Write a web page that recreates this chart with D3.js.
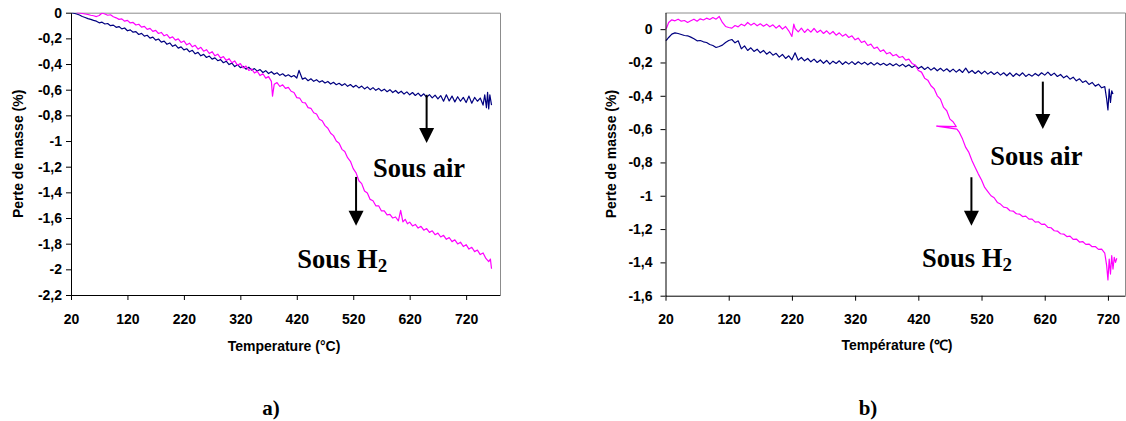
<!DOCTYPE html>
<html><head><meta charset="utf-8">
<script src="https://cdn.jsdelivr.net/npm/d3@7"></script>
<style>
html,body{margin:0;padding:0;background:#fff;}
svg{display:block;}
</style></head>
<body>
<svg id="chart" width="1126" height="421"></svg>
<script>
// ---------- DATA ----------
const xTicks = [20,120,220,320,420,520,620,720];
const yTicksA = [0,-0.2,-0.4,-0.6,-0.8,-1,-1.2,-1.4,-1.6,-1.8,-2,-2.2];
const yTicksB = [0,-0.2,-0.4,-0.6,-0.8,-1,-1.2,-1.4,-1.6];
const xTitleA = "Temperature (°C)";
const xTitleB = "Température (℃)";
const yTitle = "Perte de masse (%)";
const panelLabels = ["a)", "b)"];

// panel a) – under air (navy)
const airA = [[20,0],[25,-0.004],[30,-0.010],[35,-0.018],[40,-0.030],[45,-0.037],[50,-0.046],[55,-0.052],[60,-0.060],[65,-0.066],[70,-0.079],[75,-0.074],[80,-0.088],[85,-0.084],[90,-0.101],[95,-0.097],[100,-0.114],[105,-0.108],[110,-0.126],[115,-0.119],[120,-0.141],[125,-0.134],[130,-0.152],[135,-0.147],[140,-0.170],[145,-0.161],[150,-0.183],[155,-0.176],[160,-0.198],[165,-0.190],[170,-0.214],[175,-0.205],[180,-0.229],[185,-0.222],[190,-0.246],[195,-0.236],[200,-0.262],[205,-0.251],[210,-0.276],[215,-0.266],[220,-0.290],[225,-0.281],[230,-0.305],[235,-0.293],[240,-0.320],[245,-0.309],[250,-0.336],[255,-0.325],[260,-0.349],[265,-0.338],[270,-0.362],[275,-0.352],[280,-0.374],[285,-0.366],[290,-0.390],[295,-0.378],[300,-0.404],[305,-0.393],[310,-0.420],[315,-0.405],[320,-0.428],[325,-0.418],[330,-0.440],[335,-0.425],[340,-0.447],[345,-0.436],[350,-0.455],[355,-0.443],[360,-0.466],[365,-0.452],[370,-0.474],[375,-0.460],[380,-0.480],[385,-0.468],[390,-0.488],[395,-0.476],[400,-0.495],[405,-0.484],[410,-0.500],[415,-0.490],[420,-0.509],[424,-0.450],[430,-0.518],[435,-0.508],[440,-0.530],[445,-0.515],[450,-0.535],[455,-0.522],[460,-0.541],[465,-0.530],[470,-0.548],[475,-0.536],[480,-0.556],[485,-0.542],[490,-0.561],[495,-0.550],[500,-0.568],[505,-0.553],[510,-0.574],[515,-0.560],[520,-0.580],[525,-0.566],[530,-0.586],[535,-0.572],[540,-0.594],[545,-0.578],[550,-0.600],[555,-0.584],[560,-0.605],[565,-0.590],[570,-0.610],[575,-0.596],[580,-0.616],[585,-0.600],[590,-0.622],[595,-0.606],[600,-0.628],[605,-0.612],[610,-0.634],[615,-0.617],[620,-0.640],[625,-0.622],[630,-0.645],[635,-0.627],[640,-0.651],[645,-0.632],[650,-0.660],[655,-0.638],[660,-0.664],[665,-0.642],[670,-0.672],[675,-0.646],[680,-0.690],[685,-0.640],[690,-0.688],[695,-0.650],[700,-0.695],[705,-0.655],[710,-0.690],[715,-0.660],[720,-0.700],[725,-0.650],[730,-0.705],[735,-0.660],[740,-0.690],[745,-0.665],[750,-0.720],[753,-0.640],[756,-0.740],[758,-0.620],[760,-0.750],[762,-0.640],[765,-0.720]];

// panel a) – under H2 (magenta)
const h2A = [[30,0],[35,-0.002],[40,-0.006],[45,-0.010],[50,-0.014],[55,-0.020],[60,-0.024],[65,-0.030],[70,-0.022],[75,-0.002],[80,-0.010],[85,-0.020],[90,-0.016],[95,-0.032],[100,-0.040],[105,-0.052],[110,-0.048],[115,-0.066],[120,-0.060],[125,-0.080],[130,-0.076],[135,-0.096],[140,-0.090],[145,-0.112],[150,-0.106],[155,-0.130],[160,-0.122],[165,-0.146],[170,-0.138],[175,-0.162],[180,-0.154],[185,-0.180],[190,-0.170],[195,-0.198],[200,-0.188],[205,-0.214],[210,-0.204],[215,-0.232],[220,-0.220],[225,-0.250],[230,-0.238],[235,-0.266],[240,-0.254],[245,-0.284],[250,-0.270],[255,-0.300],[260,-0.288],[265,-0.318],[270,-0.304],[275,-0.336],[280,-0.323],[285,-0.354],[290,-0.342],[295,-0.372],[300,-0.358],[305,-0.390],[310,-0.376],[315,-0.410],[320,-0.396],[325,-0.430],[330,-0.416],[335,-0.450],[340,-0.438],[345,-0.470],[350,-0.456],[355,-0.490],[360,-0.476],[365,-0.510],[370,-0.498],[375,-0.535],[377,-0.650],[380,-0.558],[385,-0.545],[390,-0.575],[395,-0.562],[400,-0.590],[405,-0.582],[410,-0.612],[415,-0.622],[420,-0.662],[425,-0.665],[430,-0.700],[435,-0.702],[440,-0.740],[445,-0.745],[450,-0.780],[455,-0.790],[460,-0.830],[465,-0.842],[470,-0.880],[475,-0.900],[480,-0.940],[485,-0.958],[490,-1.000],[495,-1.018],[500,-1.065],[505,-1.082],[510,-1.130],[515,-1.158],[520,-1.215],[525,-1.248],[530,-1.310],[535,-1.332],[540,-1.390],[545,-1.405],[550,-1.455],[555,-1.465],[560,-1.505],[565,-1.505],[570,-1.545],[575,-1.545],[580,-1.575],[585,-1.572],[590,-1.600],[595,-1.592],[600,-1.622],[604,-1.540],[608,-1.630],[612,-1.610],[616,-1.645],[620,-1.632],[625,-1.662],[630,-1.650],[635,-1.678],[640,-1.665],[645,-1.695],[650,-1.682],[655,-1.712],[660,-1.700],[665,-1.730],[670,-1.718],[675,-1.748],[680,-1.735],[685,-1.766],[690,-1.752],[695,-1.784],[700,-1.770],[705,-1.802],[710,-1.788],[715,-1.822],[720,-1.808],[725,-1.842],[730,-1.828],[735,-1.862],[740,-1.850],[745,-1.885],[750,-1.872],[755,-1.915],[760,-1.940],[763,-1.920],[765,-1.995]];

// panel b) – under air (navy)
const airB = [[20,-0.070],[22,-0.064],[25,-0.050],[30,-0.030],[35,-0.022],[40,-0.026],[45,-0.032],[50,-0.038],[55,-0.040],[60,-0.048],[65,-0.058],[70,-0.070],[75,-0.068],[80,-0.076],[85,-0.080],[90,-0.092],[95,-0.098],[100,-0.110],[105,-0.104],[110,-0.096],[115,-0.080],[120,-0.068],[125,-0.062],[130,-0.082],[135,-0.070],[140,-0.118],[145,-0.100],[150,-0.128],[155,-0.112],[160,-0.134],[165,-0.120],[170,-0.142],[175,-0.128],[180,-0.150],[185,-0.136],[190,-0.156],[195,-0.145],[200,-0.168],[205,-0.152],[210,-0.176],[215,-0.160],[220,-0.184],[225,-0.142],[230,-0.186],[235,-0.170],[240,-0.190],[245,-0.176],[250,-0.196],[255,-0.180],[260,-0.200],[265,-0.185],[270,-0.205],[275,-0.188],[280,-0.210],[285,-0.192],[290,-0.206],[295,-0.190],[300,-0.212],[305,-0.196],[310,-0.210],[315,-0.195],[320,-0.212],[325,-0.196],[330,-0.210],[335,-0.198],[340,-0.214],[345,-0.200],[350,-0.216],[355,-0.202],[360,-0.215],[365,-0.205],[370,-0.218],[375,-0.206],[380,-0.220],[385,-0.208],[390,-0.222],[395,-0.210],[400,-0.226],[405,-0.214],[410,-0.230],[415,-0.218],[420,-0.236],[425,-0.224],[430,-0.242],[435,-0.228],[440,-0.246],[445,-0.232],[450,-0.250],[455,-0.235],[460,-0.252],[465,-0.238],[470,-0.256],[475,-0.240],[480,-0.258],[485,-0.242],[490,-0.260],[495,-0.234],[500,-0.262],[505,-0.248],[510,-0.266],[515,-0.250],[520,-0.268],[525,-0.252],[530,-0.270],[535,-0.256],[540,-0.272],[545,-0.258],[550,-0.276],[555,-0.262],[560,-0.280],[565,-0.262],[570,-0.284],[575,-0.266],[580,-0.280],[585,-0.262],[590,-0.284],[595,-0.270],[600,-0.282],[605,-0.266],[610,-0.280],[615,-0.262],[620,-0.276],[625,-0.258],[630,-0.278],[635,-0.264],[640,-0.284],[645,-0.272],[650,-0.292],[655,-0.280],[660,-0.300],[665,-0.288],[670,-0.310],[675,-0.298],[680,-0.320],[685,-0.310],[690,-0.332],[695,-0.320],[700,-0.342],[705,-0.330],[710,-0.352],[715,-0.345],[718,-0.420],[720,-0.485],[722,-0.360],[724,-0.440],[726,-0.370],[728,-0.390]];

// panel b) – under H2 (magenta)
const h2B = [[20,0.000],[22,0.010],[25,0.040],[30,0.056],[35,0.050],[40,0.060],[45,0.048],[50,0.052],[55,0.040],[60,0.050],[65,0.060],[70,0.048],[75,0.062],[80,0.055],[85,0.066],[90,0.058],[95,0.070],[100,0.060],[105,0.076],[110,0.040],[115,0.016],[120,0.010],[125,0.006],[130,0.022],[135,0.014],[140,0.030],[145,0.020],[150,0.040],[155,0.024],[160,0.036],[165,0.020],[170,0.032],[175,0.018],[180,0.030],[185,0.014],[190,0.026],[195,0.006],[200,0.022],[205,0.000],[210,0.016],[215,-0.010],[220,-0.044],[223,0.030],[225,0.004],[230,-0.016],[235,0.006],[240,-0.020],[245,0.000],[250,-0.018],[255,0.004],[260,-0.020],[265,-0.006],[270,-0.026],[275,-0.010],[280,-0.030],[285,-0.014],[290,-0.036],[295,-0.022],[300,-0.042],[305,-0.030],[310,-0.050],[315,-0.040],[320,-0.064],[325,-0.054],[330,-0.080],[335,-0.072],[340,-0.098],[345,-0.090],[350,-0.116],[355,-0.108],[360,-0.134],[365,-0.124],[370,-0.148],[375,-0.140],[380,-0.160],[385,-0.152],[390,-0.170],[395,-0.164],[400,-0.186],[405,-0.180],[410,-0.206],[415,-0.215],[420,-0.248],[425,-0.258],[430,-0.294],[435,-0.306],[440,-0.340],[445,-0.358],[450,-0.400],[455,-0.420],[460,-0.470],[465,-0.490],[470,-0.540],[475,-0.556],[480,-0.585],[449,-0.582],[481,-0.600],[485,-0.620],[490,-0.660],[495,-0.710],[500,-0.740],[505,-0.790],[510,-0.830],[515,-0.870],[520,-0.905],[525,-0.950],[530,-0.975],[535,-1.000],[540,-1.012],[545,-1.040],[550,-1.050],[555,-1.068],[560,-1.072],[565,-1.090],[570,-1.092],[575,-1.108],[580,-1.110],[585,-1.125],[590,-1.122],[595,-1.140],[600,-1.140],[605,-1.158],[610,-1.156],[615,-1.172],[620,-1.170],[625,-1.190],[630,-1.192],[635,-1.210],[640,-1.212],[645,-1.228],[650,-1.230],[655,-1.245],[660,-1.242],[665,-1.262],[670,-1.260],[675,-1.278],[680,-1.275],[685,-1.292],[690,-1.290],[695,-1.306],[700,-1.305],[705,-1.322],[710,-1.320],[715,-1.345],[718,-1.420],[720,-1.505],[722,-1.380],[724,-1.470],[726,-1.360],[728,-1.440],[730,-1.370],[732,-1.400],[734,-1.375]];

// annotations (data coordinates): arrow [T, from, to], label [T, value]
const arrowsA = [[650,-0.64,-1.016],[525,-1.28,-1.66]];
const arrowsB = [[617,-0.315,-0.60],[504,-0.889,-1.18]];
const labelAirA = [555,-1.28], labelH2A = [421,-1.99];
const labelAirB = [534,-0.815], labelH2B = [426,-1.426];

// ---------- DRAW ----------
const svg = d3.select("#chart");
svg.append("rect").attr("width",1126).attr("height",421).attr("fill","#fff");
const SANS = "'Liberation Sans', Arial, sans-serif";
const SERIF = "'Liberation Serif', 'Times New Roman', serif";
const fmt = d => d === 0 ? "0" : String(d).replace(".", ",");

function panel(o) {
  const x = d3.scaleLinear().domain(o.xDomain).range(o.xRange);
  const y = d3.scaleLinear().domain(o.yDomain).range(o.yRange);
  const g = svg.append("g");
  const [x0, x1] = o.xRange, [yb, yt] = o.yRange;

  // frame (top/right in grey)
  g.append("path").attr("d", `M${x0},${yt+0.5}H${x1+0.5}V${yb}`)
    .attr("fill","none").attr("stroke","#8c8c8c").attr("stroke-width",1);

  // series
  const line = d3.line().x(d => x(d[0])).y(d => y(d[1]));
  const clipId = "clip" + o.id;
  svg.append("clipPath").attr("id", clipId).append("rect")
    .attr("x", x0).attr("y", yt).attr("width", x1 - x0 + 1).attr("height", yb - yt);
  const lg = g.append("g").attr("clip-path", `url(#${clipId})`);
  lg.append("path").datum(o.air).attr("d", line).attr("fill","none")
    .attr("stroke","#000080").attr("stroke-width",1.2).attr("stroke-linejoin","round");
  lg.append("path").datum(o.h2).attr("d", line).attr("fill","none")
    .attr("stroke","#ff00ff").attr("stroke-width",1.2).attr("stroke-linejoin","round");

  // axes
  const ax = g.append("g").attr("transform", `translate(0,${yb})`)
    .call(d3.axisBottom(x).tickValues(xTicks).tickSize(5).tickSizeOuter(0).tickFormat(d3.format("d")));
  ax.selectAll("text").attr("y", o.xLabelGap).attr("dy", "0")
    .style("font-family", SANS).style("font-weight","bold").style("font-size","14px").attr("fill","#000");
  const ay = g.append("g").attr("transform", `translate(${x0},0)`)
    .call(d3.axisLeft(y).tickValues(o.yTicks).tickSize(5).tickSizeOuter(0).tickFormat(fmt).tickPadding(o.yPad));
  ay.selectAll("text").style("font-family", SANS).style("font-weight","bold").style("font-size","14px").attr("fill","#000");
  [ax, ay].forEach(a => { a.select(".domain").attr("stroke","#000"); a.selectAll(".tick line").attr("stroke","#000"); });

  // titles
  g.append("text").attr("x", o.xTitlePos[0]).attr("y", o.xTitlePos[1]).attr("text-anchor","middle")
    .style("font-family", SANS).style("font-weight","bold").style("font-size","14px").text(o.xTitle);
  g.append("text").attr("transform", `translate(${o.yTitleX},${(yb+yt)/2}) rotate(-90)`)
    .attr("text-anchor","middle").attr("dy","0.35em")
    .style("font-family", SANS).style("font-weight","bold").style("font-size","14px").text(yTitle);

  // arrows
  o.arrows.forEach(([t, v0, v1]) => {
    const ax0 = x(t), ys = y(v0), ye = y(v1);
    g.append("line").attr("x1", ax0).attr("x2", ax0).attr("y1", ys).attr("y2", ye - 12)
      .attr("stroke","#000").attr("stroke-width",2);
    g.append("path").attr("d", `M${ax0-7.5},${ye-15}L${ax0+7.5},${ye-15}L${ax0},${ye}Z`).attr("fill","#000");
  });

  // labels
  g.append("text").attr("x", x(o.labelAir[0])).attr("y", y(o.labelAir[1]))
    .style("font-family", SERIF).style("font-weight","bold").style("font-size","26.5px").text("Sous air");
  const th = g.append("text").attr("x", x(o.labelH2[0])).attr("y", y(o.labelH2[1]))
    .style("font-family", SERIF).style("font-weight","bold").style("font-size","26.5px");
  th.append("tspan").text("Sous H");
  th.append("tspan").attr("dy", 4).style("font-size","19px").text("2");

  // panel letter
  g.append("text").attr("x", o.letterPos[0]).attr("y", o.letterPos[1]).attr("text-anchor","middle")
    .style("font-family", SERIF).style("font-weight","bold").style("font-size","21px").text(o.letter);
}

panel({
  id: "A", xDomain: [20, 780], xRange: [71, 500], yDomain: [-2.2, 0], yRange: [295, 12.7],
  yTicks: yTicksA, yPad: 4, xLabelGap: 29, air: airA, h2: h2A,
  xTitle: xTitleA, xTitlePos: [284, 351], yTitleX: 18.5,
  arrows: arrowsA, labelAir: labelAirA, labelH2: labelH2A,
  letter: panelLabels[0], letterPos: [271, 415]
});
panel({
  id: "B", xDomain: [20, 747], xRange: [665.5, 1125], yDomain: [-1.6, 0.1], yRange: [295.7, 12.5],
  yTicks: yTicksB, yPad: 8, xLabelGap: 28, air: airB, h2: h2B,
  xTitle: xTitleB, xTitlePos: [897, 350], yTitleX: 611.5,
  arrows: arrowsB, labelAir: labelAirB, labelH2: labelH2B,
  letter: panelLabels[1], letterPos: [868, 415]
});
</script>
</body></html>
